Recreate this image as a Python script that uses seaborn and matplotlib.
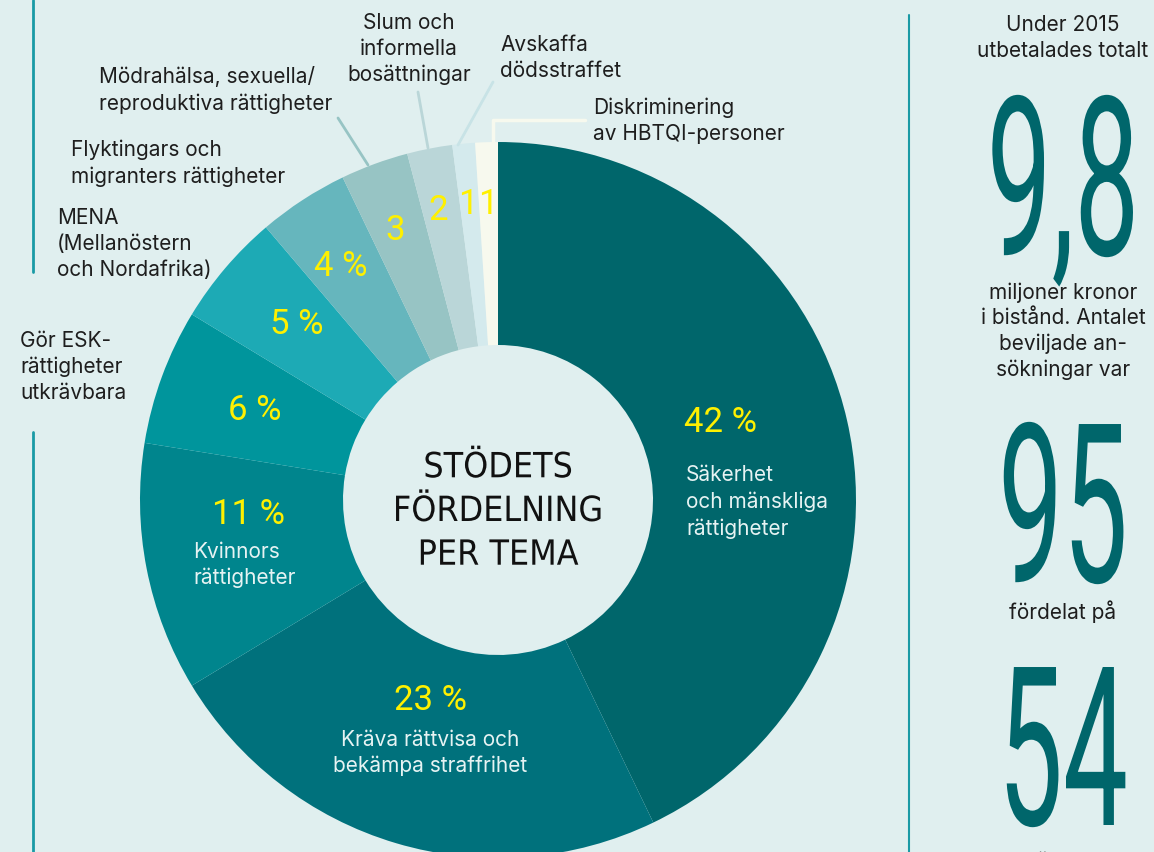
import matplotlib
matplotlib.use("Agg")
import matplotlib.pyplot as plt
from matplotlib.patheffects import AbstractPathEffect
from matplotlib.transforms import Affine2D
import seaborn as sns

# data
themes = [
    "Säkerhet och mänskliga rättigheter",
    "Kräva rättvisa och bekämpa straffrihet",
    "Kvinnors rättigheter",
    "Gör ESK-rättigheter utkrävbara",
    "MENA (Mellanöstern och Nordafrika)",
    "Flyktingars och migranters rättigheter",
    "Mödrahälsa, sexuella/reproduktiva rättigheter",
    "Slum och informella bosättningar",
    "Avskaffa dödsstraffet",
    "Diskriminering av HBTQI-personer",
]
shares = [42, 23, 11, 6, 5, 4, 3, 2, 1, 1]
share_labels = ["42 %", "23 %", "11 %", "6 %", "5 %", "4 %", "3", "2", "1", "1"]
slice_colors = ["#00666b", "#00717c", "#00858d", "#00959c", "#1daab5",
                "#66b6bd", "#97c4c4", "#bad6d8", "#d4eaed", "#f7f9ee"]

total_text = "Under 2015\nutbetalades totalt"
total_mkr = "9,8"
mkr_text = "miljoner kronor\ni bistånd. Antalet\nbeviljade an-\nsökningar var"
n_applications = "95"
apps_text = "fördelat på"
n_countries = "54"
countries_text = "länder"

W, H = 1154, 852
BG = "#e0efef"
TEAL = "#00666b"
INK = "#1e1e1e"
YELLOW = "#fff000"
LIGHT = "#e6f3f3"


class Squeeze(AbstractPathEffect):
    """Narrow the glyphs horizontally around x0 (display pixels)."""

    def __init__(self, sx, x0):
        super().__init__()
        self.sx, self.x0 = sx, x0

    def draw_path(self, renderer, gc, tpath, affine, rgbFace=None):
        narrow = Affine2D().translate(-self.x0, 0).scale(self.sx, 1).translate(self.x0, 0)
        renderer.draw_path(gc, tpath, affine + narrow, rgbFace)


sns.set_theme(style="white")
plt.rcParams["font.family"] = ["Inter", "DejaVu Sans"]

fig = plt.figure(figsize=(W / 100, H / 100), dpi=100, facecolor=BG)
ax = fig.add_axes([0, 0, 1, 1])
ax.set_facecolor(BG)

cx, cy, R, r_in = 498, 500, 358, 155
ax.pie(shares, colors=slice_colors, startangle=90, counterclock=False,
       center=(cx, H - cy), radius=R,
       wedgeprops=dict(width=R - r_in, linewidth=0))
ax.set_xlim(0, W)
ax.set_ylim(0, H)
ax.set_aspect("equal")
ax.axis("off")


def txt(x, y, s, **kw):
    ax.text(x, H - y, s, **kw)


# percentage labels
pct_pos = [(721, 423), (430, 701), (248, 514), (255, 410), (297, 324),
           (341, 267), (395, 230), (438, 210), (468, 205), (488, 205)]
for (x, y), s in zip(pct_pos, share_labels):
    txt(x, y, s, color=YELLOW, fontsize=25, family=["Roboto", "DejaVu Sans"],
        ha="center", va="center")

# labels inside slices
body = dict(fontsize=15, linespacing=1.38)
txt(686, 502, "Säkerhet\noch mänskliga\nrättigheter", color=LIGHT, ha="left",
    va="center", **body)
txt(430, 753, "Kräva rättvisa och\nbekämpa straffrihet", color=LIGHT,
    ha="center", va="center", **body)
txt(193, 565, "Kvinnors\nrättigheter", color=LIGHT, ha="left", va="center", **body)

# labels outside
txt(409, 49, "Slum och\ninformella\nbosättningar", color=INK, ha="center",
    va="center", **body)
txt(500, 58, "Avskaffa\ndödsstraffet", color=INK, ha="left", va="center", **body)
txt(593, 121, "Diskriminering\nav HBTQI-personer", color=INK, ha="left",
    va="center", **body)
txt(99, 90, "Mödrahälsa, sexuella/\nreproduktiva rättigheter", color=INK,
    ha="left", va="center", **body)
txt(71, 163, "Flyktingars och\nmigranters rättigheter", color=INK, ha="left",
    va="center", **body)
txt(57, 244, "MENA\n(Mellanöstern\noch Nordafrika)", color=INK, ha="left",
    va="center", **body)
txt(20, 367, "Gör ESK-\nrättigheter\nutkrävbara", color=INK, ha="left",
    va="center", **body)

# leader lines
ax.plot([338, 368], [H - 118, H - 165], color=slice_colors[6], lw=2)
ax.plot([418, 428], [H - 92, H - 148], color=slice_colors[7], lw=2)
ax.plot([493, 458], [H - 82, H - 145], color="#c8e3e6", lw=2)
ax.plot([585, 493, 493], [H - 120, H - 120, H - 143], color=slice_colors[9], lw=2.5)

# centre title
txt(cx, 511, "STÖDETS\nFÖRDELNING\nPER TEMA", color="#111111", fontsize=25,
    family="DejaVu Sans", ha="center", va="center", linespacing=1.36,
    path_effects=[Squeeze(0.92, cx)])

# vertical rules
ax.plot([33, 33], [H - 0, H - 272], color="#1a9aa5", lw=2)
ax.plot([33, 33], [H - 432, H - 852], color="#1a9aa5", lw=2)
ax.plot([909, 909], [H - 15, H - 852], color="#1a9aa5", lw=1.5)

# right-hand key figures
rx = 1063
txt(rx, 38, total_text, color=INK, ha="center", va="center", **body)
big = dict(color=TEAL, fontsize=160, family=["Roboto", "DejaVu Sans"],
           ha="center", va="baseline", path_effects=[Squeeze(0.52, rx)])
txt(rx, 255, total_mkr, **big)
txt(rx, 331, mkr_text, color=INK, ha="center", va="center", fontsize=15,
    linespacing=1.32)
txt(rx, 582, n_applications, **big)
txt(rx, 612, apps_text, color=INK, ha="center", va="center", **body)
txt(rx, 825, n_countries, **big)
txt(rx, 862, countries_text, color=INK, ha="center", va="center", **body)

fig.savefig("out.png", dpi=100, facecolor=BG)
